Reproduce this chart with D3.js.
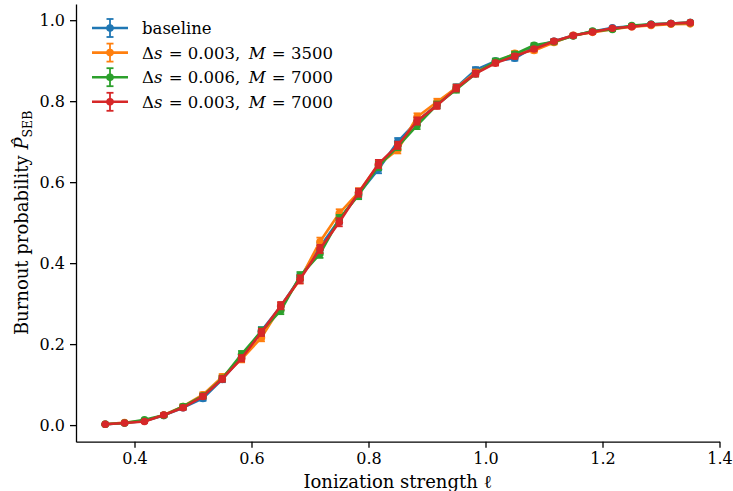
<!DOCTYPE html>
<html lang="en">
<head>
  <meta charset="UTF-8">
  <title>Burnout probability vs ionization strength</title>
  <script src="https://d3js.org/d3.v7.min.js"></script>
  <style>
    body { margin: 0; background: #fff; }
    text { font-family: "DejaVu Serif", serif; fill: #000; white-space: pre; }
  </style>
</head>
<body>
<div id="chart"></div>
<script>
  // x values (ionization strength)
  const ionization = [0.350, 0.383, 0.417, 0.450, 0.483, 0.517, 0.550, 0.583, 0.617, 0.650,
    0.683, 0.717, 0.750, 0.783, 0.817, 0.850, 0.883, 0.917, 0.950, 0.983,
    1.017, 1.050, 1.083, 1.117, 1.150, 1.183, 1.217, 1.250, 1.283, 1.317, 1.350];

  // burnout probability per run
  const baseline = [0.002, 0.005, 0.010, 0.024, 0.043, 0.066, 0.113, 0.168, 0.233, 0.293,
    0.364, 0.440, 0.507, 0.571, 0.632, 0.700, 0.750, 0.791, 0.834, 0.877,
    0.899, 0.906, 0.934, 0.948, 0.962, 0.972, 0.981, 0.985, 0.990, 0.992, 0.994];
  const ds003M3500 = [0.002, 0.006, 0.010, 0.025, 0.046, 0.075, 0.119, 0.163, 0.216, 0.293,
    0.360, 0.453, 0.523, 0.575, 0.643, 0.680, 0.761, 0.798, 0.833, 0.871,
    0.895, 0.918, 0.925, 0.945, 0.963, 0.970, 0.978, 0.984, 0.987, 0.990, 0.991];
  const ds006M7000 = [0.002, 0.005, 0.013, 0.024, 0.046, 0.072, 0.115, 0.175, 0.232, 0.283,
    0.368, 0.423, 0.509, 0.568, 0.640, 0.688, 0.740, 0.791, 0.829, 0.868,
    0.899, 0.916, 0.938, 0.947, 0.961, 0.973, 0.977, 0.987, 0.990, 0.992, 0.994];
  const ds003M7000 = [0.002, 0.005, 0.009, 0.025, 0.043, 0.071, 0.114, 0.165, 0.229, 0.295,
    0.360, 0.435, 0.501, 0.574, 0.645, 0.691, 0.751, 0.789, 0.832, 0.868,
    0.894, 0.911, 0.929, 0.948, 0.962, 0.971, 0.980, 0.984, 0.989, 0.992, 0.994];

  // error bar half-widths (same for all runs)
  const stdErr = [0.001, 0.002, 0.003, 0.004, 0.005, 0.006, 0.007, 0.008, 0.009, 0.009,
    0.010, 0.010, 0.010, 0.010, 0.010, 0.009, 0.009, 0.008, 0.008, 0.007,
    0.006, 0.006, 0.005, 0.005, 0.004, 0.004, 0.003, 0.003, 0.002, 0.002, 0.002];

  const xTicks = [0.4, 0.6, 0.8, 1.0, 1.2, 1.4];
  const yTicks = [0.0, 0.2, 0.4, 0.6, 0.8, 1.0];

  // label pieces: [text, italic, dx]
  const mathLabel = (ds, m) => [["\u0394", false, 0], ["s", true, 0], [" = " + ds + ",", false, 1],
    ["M", true, 8.5], [" = " + m, false, 1]];

  const series = [
    { values: baseline, color: "#1f77b4", label: [["baseline", false, 0]] },
    { values: ds003M3500, color: "#ff7f0e", label: mathLabel("0.003", "3500") },
    { values: ds006M7000, color: "#2ca02c", label: mathLabel("0.006", "7000") },
    { values: ds003M7000, color: "#d62728", label: mathLabel("0.003", "7000") }
  ];

  const W = 733, H = 491;
  const plotLeft = 76, plotRight = 719.5, plotTop = 4, plotBottom = 441.7;

  const svg = d3.select("#chart").append("svg")
    .attr("width", W).attr("height", H);

  const x = d3.scaleLinear().domain([0.3, 1.4]).range([plotLeft, plotRight]);
  const y = d3.scaleLinear().domain([-0.041, 1.04]).range([plotBottom, plotTop]);

  // axes
  const xAxis = svg.append("g")
    .attr("transform", `translate(0,${plotBottom})`)
    .call(d3.axisBottom(x).tickValues(xTicks).tickFormat(d3.format(".1f")).tickSize(6).tickPadding(5).tickSizeOuter(0));
  const yAxis = svg.append("g")
    .attr("transform", `translate(${plotLeft},0)`)
    .call(d3.axisLeft(y).tickValues(yTicks).tickFormat(d3.format(".1f")).tickSize(6).tickPadding(5).tickSizeOuter(0));

  [xAxis, yAxis].forEach(g => {
    g.select(".domain").attr("stroke", "#000").attr("stroke-width", 1.3);
    g.selectAll(".tick line").attr("stroke", "#000").attr("stroke-width", 1.3);
    g.selectAll(".tick text").style("font-family", "DejaVu Serif").style("font-size", "16px");
  });

  // axis labels
  svg.append("text")
    .attr("x", (plotLeft + plotRight) / 2).attr("y", 488)
    .attr("text-anchor", "middle")
    .style("font-size", "18px")
    .text("Ionization strength \u2113");

  const yl = svg.append("text")
    .attr("transform", `translate(28,${(plotTop + plotBottom) / 2}) rotate(-90)`)
    .attr("text-anchor", "middle")
    .style("font-size", "18px");
  yl.append("tspan").text("Burnout probability ");
  yl.append("tspan").style("font-style", "italic").text("P\u0302");
  yl.append("tspan").attr("dy", 4).style("font-size", "12.5px").text("SEB");

  const line = d3.line().x((d, i) => x(ionization[i])).y(d => y(d));

  // each run: error bars, line, markers
  series.forEach(s => {
    const g = svg.append("g");
    s.values.forEach((v, i) => {
      const cx = x(ionization[i]), e = stdErr[i];
      g.append("line").attr("x1", cx).attr("x2", cx)
        .attr("y1", y(v - e)).attr("y2", y(v + e))
        .attr("stroke", s.color).attr("stroke-width", 1.8);
      [v - e, v + e].forEach(c => {
        g.append("line").attr("x1", cx - 3.5).attr("x2", cx + 3.5)
          .attr("y1", y(c)).attr("y2", y(c))
          .attr("stroke", s.color).attr("stroke-width", 1.8);
      });
    });
    g.append("path").datum(s.values)
      .attr("d", line)
      .attr("fill", "none")
      .attr("stroke", s.color)
      .attr("stroke-width", 2.6)
      .attr("stroke-linejoin", "round");
    g.selectAll("circle").data(s.values).enter().append("circle")
      .attr("cx", (d, i) => x(ionization[i]))
      .attr("cy", d => y(d))
      .attr("r", 3.8)
      .attr("fill", s.color);
  });

  // legend
  const legend = svg.append("g");
  series.forEach((s, i) => {
    const ry = 28 + i * 24.6;
    const row = legend.append("g").attr("transform", `translate(0,${ry})`);
    row.append("line").attr("x1", 92).attr("x2", 128).attr("y1", 0).attr("y2", 0)
      .attr("stroke", s.color).attr("stroke-width", 2.6);
    row.append("line").attr("x1", 110).attr("x2", 110).attr("y1", -9).attr("y2", 9)
      .attr("stroke", s.color).attr("stroke-width", 1.8);
    [-9, 9].forEach(c => row.append("line").attr("x1", 106.5).attr("x2", 113.5)
      .attr("y1", c).attr("y2", c).attr("stroke", s.color).attr("stroke-width", 1.8));
    row.append("circle").attr("cx", 110).attr("cy", 0).attr("r", 3.8).attr("fill", s.color);
    const t = row.append("text").attr("x", 142).attr("y", 6).style("font-size", "16.5px");
    s.label.forEach(([str, it, dx]) => {
      t.append("tspan").attr("dx", dx).style("font-style", it ? "italic" : "normal").text(str);
    });
  });
</script>
</body>
</html>
